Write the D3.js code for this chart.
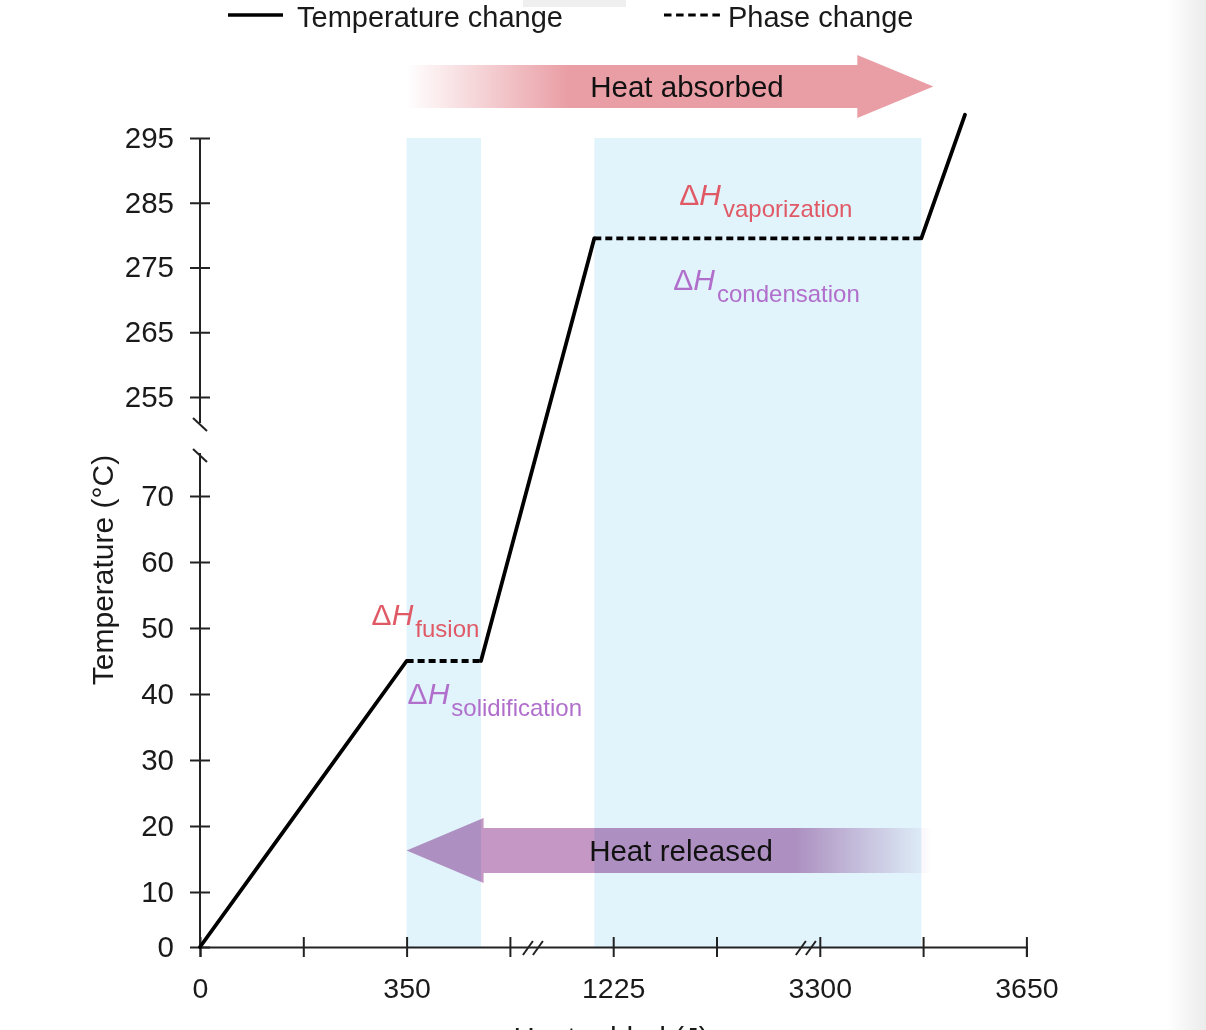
<!DOCTYPE html>
<html><head><meta charset="utf-8">
<script src="https://cdn.jsdelivr.net/npm/d3@7"></script>
<style>
html,body{margin:0;padding:0;background:#fff;overflow:hidden;}
svg{display:block;font-family:"Liberation Sans",Arial,Helvetica,sans-serif;}
</style></head><body>
<svg id="chart" width="1206" height="1030"></svg>
<script>
// ---- data ----
const xTickValues = [0, 350, 1225, 3300, 3650];
const xMinorTicks = [175, 787.5, 2262.5, 3475];
const xBreaks = [885, 3160];
const yLowTicks = [0, 10, 20, 30, 40, 50, 60, 70];
const yHighTicks = [255, 265, 275, 285, 295];
const heat = [0, 350, 665, 1145, 3472, 3546];
const temperature = [0, 45, 45, 279.5, 279.5, 298.6];
const segmentKind = ["temp", "phase", "temp", "phase", "temp"];
const phaseBands = [[350, 665], [1145, 3472]];
const legendLabels = ["Temperature change", "Phase change"];
const arrowLabels = ["Heat absorbed", "Heat released"];
const enthalpyLabels = ["fusion", "solidification", "vaporization", "condensation"];
const axisTitles = ["Temperature (\u00B0C)", "Heat added (J)"];

// ---- styles ----
const RED = "#e05a66", PURPLE = "#b16fcc", BAND = "#e1f3fb", INK = "#111", AX = "#222";

const svg = d3.select("#chart");
const defs = svg.append("defs");

// page decorations
const edge = defs.append("linearGradient").attr("id", "edge").attr("x1", 0).attr("x2", 1);
edge.append("stop").attr("offset", 0).attr("stop-color", "#fff");
edge.append("stop").attr("offset", 1).attr("stop-color", "#ececec");
svg.append("rect").attr("x", 1166).attr("y", 0).attr("width", 40).attr("height", 1030).attr("fill", "url(#edge)");
svg.append("rect").attr("x", 523).attr("y", 0).attr("width", 103).attr("height", 7).attr("fill", "#efefef");

// ---- scales ----
const x = d3.scaleLinear().domain(xTickValues).range(xTickValues.map((d, i) => 200 + i * 206.6));
const yLow = d3.scaleLinear().domain([0, 10, 70]).range([947, 892, 496]);
const yHigh = d3.scaleLinear().domain([255, 295]).range([397, 138]);
const y = t => (t <= 75 ? yLow(t) : yHigh(t));

// ---- phase bands ----
svg.append("g").selectAll("rect").data(phaseBands).join("rect")
  .attr("x", d => x(d[0])).attr("width", d => x(d[1]) - x(d[0]))
  .attr("y", yHigh(295)).attr("height", yLow(0) - yHigh(295))
  .attr("fill", BAND);

// ---- arrows ----
const gA = defs.append("linearGradient").attr("id", "gradAbs").attr("gradientUnits", "userSpaceOnUse")
  .attr("x1", x(350)).attr("x2", x(3472) + 12).attr("y1", 0).attr("y2", 0);
gA.append("stop").attr("offset", 0).attr("stop-color", "#e99da4").attr("stop-opacity", 0);
gA.append("stop").attr("offset", 0.31).attr("stop-color", "#e99da4").attr("stop-opacity", 1);
gA.append("stop").attr("offset", 1).attr("stop-color", "#e99da4").attr("stop-opacity", 1);

const gR = defs.append("linearGradient").attr("id", "gradRel").attr("gradientUnits", "userSpaceOnUse")
  .attr("x1", x(350)).attr("x2", x(3472) + 11).attr("y1", 0).attr("y2", 0);
gR.append("stop").attr("offset", 0).attr("stop-color", "#c497c4").attr("stop-opacity", 1);
gR.append("stop").attr("offset", 0.74).attr("stop-color", "#c497c4").attr("stop-opacity", 1);
gR.append("stop").attr("offset", 1).attr("stop-color", "#c497c4").attr("stop-opacity", 0);

function arrowRight(x0, tip, cy, shaftH, headH, headLen) {
  const p = d3.path();
  p.moveTo(x0, cy - shaftH / 2);
  p.lineTo(tip - headLen, cy - shaftH / 2);
  p.lineTo(tip - headLen, cy - headH / 2);
  p.lineTo(tip, cy);
  p.lineTo(tip - headLen, cy + headH / 2);
  p.lineTo(tip - headLen, cy + shaftH / 2);
  p.lineTo(x0, cy + shaftH / 2);
  p.closePath();
  return p.toString();
}
function arrowLeft(x1, tip, cy, shaftH, headH, headLen) {
  const p = d3.path();
  p.moveTo(x1, cy - shaftH / 2);
  p.lineTo(tip + headLen, cy - shaftH / 2);
  p.lineTo(tip + headLen, cy - headH / 2);
  p.lineTo(tip, cy);
  p.lineTo(tip + headLen, cy + headH / 2);
  p.lineTo(tip + headLen, cy + shaftH / 2);
  p.lineTo(x1, cy + shaftH / 2);
  p.closePath();
  return p.toString();
}
svg.append("path").attr("d", arrowRight(x(350), x(3472) + 12, 86.5, 43, 63, 76)).attr("fill", "url(#gradAbs)");
svg.append("path").attr("d", arrowLeft(x(3472) + 11, x(350), 850.5, 45, 65, 77))
  .attr("fill", "url(#gradRel)").style("mix-blend-mode", "multiply");

svg.append("text").attr("x", 687).attr("y", 97).attr("text-anchor", "middle")
  .attr("font-size", 29.5).attr("fill", INK).text(arrowLabels[0]);
svg.append("text").attr("x", 681).attr("y", 861).attr("text-anchor", "middle")
  .attr("font-size", 29.5).attr("fill", INK).text(arrowLabels[1]);

// ---- axes ----
const yAxisG = svg.append("g").attr("transform", "translate(200,0)");
function styleYAxis(g) {
  g.select(".domain").remove();
  g.selectAll(".tick line").attr("x1", 10).attr("x2", -10).attr("stroke", AX).attr("stroke-width", 2);
  g.selectAll(".tick text").attr("x", -26).attr("font-size", 29.5).attr("fill", "#1a1a1a")
    .attr("font-family", "'Liberation Sans',Arial,sans-serif");
}
yAxisG.append("g").call(d3.axisLeft(yLow).tickValues(yLowTicks).tickSize(10)).call(styleYAxis);
yAxisG.append("g").call(d3.axisLeft(yHigh).tickValues(yHighTicks).tickSize(10)).call(styleYAxis);
// axis lines with break
yAxisG.append("line").attr("x1", 0).attr("x2", 0).attr("y1", yHigh(295)).attr("y2", yHigh(251))
  .attr("stroke", AX).attr("stroke-width", 2);
yAxisG.append("line").attr("x1", 0).attr("x2", 0).attr("y1", yLow(76.5)).attr("y2", yLow(0))
  .attr("stroke", AX).attr("stroke-width", 2);
[yHigh(251) - 5, yLow(76.5) - 4].forEach(yy => {
  yAxisG.append("line").attr("x1", -7).attr("x2", 7).attr("y1", yy).attr("y2", yy + 13)
    .attr("stroke", AX).attr("stroke-width", 2);
});

const allXTicks = xTickValues.concat(xMinorTicks).sort((a, b) => a - b);
const xAxisG = svg.append("g").attr("transform", "translate(0," + yLow(0) + ")")
  .call(d3.axisBottom(x).tickValues(allXTicks).tickSizeOuter(0).tickSize(10)
    .tickFormat(d => (xTickValues.includes(d) ? d : "")));
xAxisG.select(".domain").attr("stroke", AX).attr("stroke-width", 2);
xAxisG.selectAll(".tick line").attr("y1", -10).attr("y2", 10).attr("stroke", AX).attr("stroke-width", 2);
xAxisG.selectAll(".tick text").attr("y", 31).attr("font-size", 28.5).attr("fill", "#1a1a1a")
  .attr("font-family", "'Liberation Sans',Arial,sans-serif");
xBreaks.forEach(b => {
  [-5, 5].forEach(off => {
    xAxisG.append("line").attr("x1", x(b) + off - 5).attr("x2", x(b) + off + 5)
      .attr("y1", 8).attr("y2", -6).attr("stroke", AX).attr("stroke-width", 2);
  });
});

// ---- heating curve ----
const segs = segmentKind.map((k, i) => ({ k, x1: heat[i], y1: temperature[i], x2: heat[i + 1], y2: temperature[i + 1] }));
svg.append("g").selectAll("line").data(segs).join("line")
  .attr("x1", d => x(d.x1)).attr("y1", d => y(d.y1))
  .attr("x2", d => x(d.x2)).attr("y2", d => y(d.y2))
  .attr("stroke", "#000").attr("stroke-width", 3.8)
  .attr("stroke-linecap", d => (d.k === "temp" ? "round" : "butt"))
  .attr("stroke-dasharray", d => (d.k === "phase" ? "7,4" : null));

// ---- enthalpy labels ----
function deltaH(px, py, sub, color) {
  const t = svg.append("text").attr("x", px).attr("y", py).attr("fill", color).attr("font-size", 30);
  t.append("tspan").text("\u0394");
  t.append("tspan").attr("font-style", "italic").text("H");
  t.append("tspan").attr("font-size", 24).attr("dy", 12).attr("dx", 2).text(sub);
}
deltaH(x(350) - 35, y(45) - 36, enthalpyLabels[0], RED);
deltaH(x(350) + 1, y(45) + 43, enthalpyLabels[1], PURPLE);
deltaH(x(1145) + 85, y(279.5) - 33, enthalpyLabels[2], RED);
deltaH(x(1145) + 79, y(279.5) + 52, enthalpyLabels[3], PURPLE);

// ---- legend ----
svg.append("line").attr("x1", 228).attr("x2", 283).attr("y1", 15).attr("y2", 15)
  .attr("stroke", "#000").attr("stroke-width", 3.5);
svg.append("text").attr("x", 297).attr("y", 26.5).attr("font-size", 29).attr("fill", "#1a1a1a").text(legendLabels[0]);
svg.append("line").attr("x1", 664).attr("x2", 720).attr("y1", 15).attr("y2", 15)
  .attr("stroke", "#000").attr("stroke-width", 3).attr("stroke-dasharray", "7.5,4.6");
svg.append("text").attr("x", 728).attr("y", 26.5).attr("font-size", 29).attr("fill", "#1a1a1a").text(legendLabels[1]);

// ---- axis titles ----
svg.append("text").attr("transform", "translate(113,570) rotate(-90)").attr("text-anchor", "middle")
  .attr("font-size", 30).attr("fill", "#1a1a1a").text(axisTitles[0]);
svg.append("text").attr("x", 611).attr("y", 1048).attr("text-anchor", "middle")
  .attr("font-size", 29.5).attr("fill", "#1a1a1a").text(axisTitles[1]);
</script>
</body></html>
